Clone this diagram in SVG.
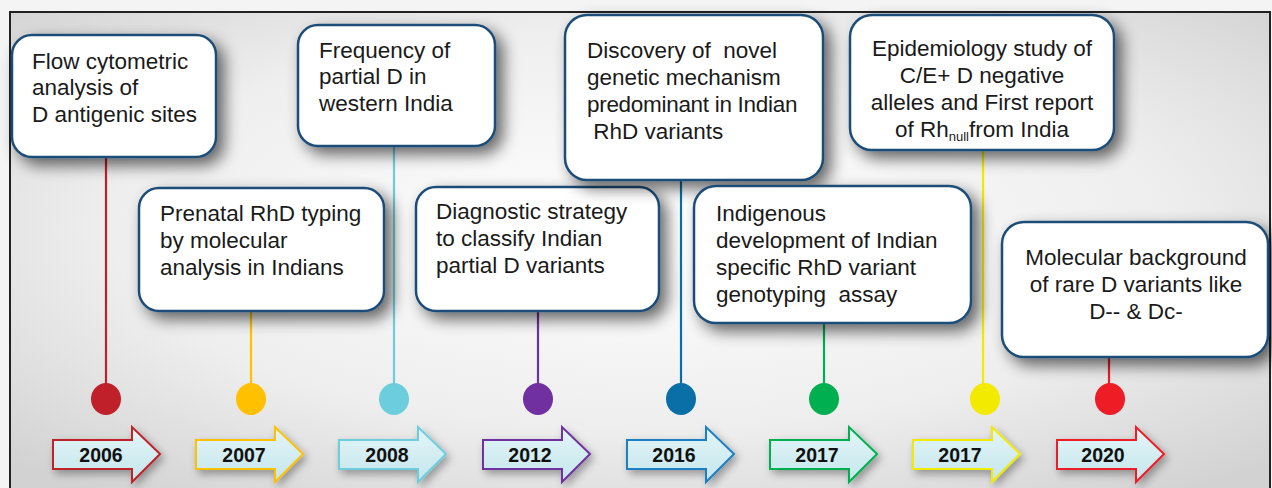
<svg xmlns="http://www.w3.org/2000/svg" width="1272" height="488" viewBox="0 0 1272 488">
<defs>
<radialGradient id="bg" cx="0.5" cy="0.45" r="0.7">
<stop offset="0" stop-color="#ffffff"/>
<stop offset="0.6" stop-color="#eeeeee"/>
<stop offset="1" stop-color="#d2d2d2"/>
</radialGradient>
<linearGradient id="arr" x1="0" y1="0" x2="0" y2="1">
<stop offset="0" stop-color="#e4f5f8"/>
<stop offset="1" stop-color="#c4e6ec"/>
</linearGradient>
<filter id="sh" x="-20%" y="-20%" width="150%" height="150%">
<feGaussianBlur in="SourceAlpha" stdDeviation="8"/>
<feOffset dx="7" dy="7" result="b"/>
<feComponentTransfer><feFuncA type="linear" slope="0.6"/></feComponentTransfer>
<feMerge><feMergeNode/><feMergeNode in="SourceGraphic"/></feMerge>
</filter>
<filter id="ash" x="-20%" y="-30%" width="150%" height="180%">
<feGaussianBlur in="SourceAlpha" stdDeviation="4"/>
<feOffset dx="3" dy="4"/>
<feComponentTransfer><feFuncA type="linear" slope="0.35"/></feComponentTransfer>
<feMerge><feMergeNode/><feMergeNode in="SourceGraphic"/></feMerge>
</filter>
<path id="arrowShape" d="M0,13 H79 V0 L107,27 L79,55 V42 H0 Z"/>
</defs>
<style>
.box{fill:#ffffff;stroke:#1f4e79;stroke-width:2.5;filter:url(#sh)}
.t{font-family:"Liberation Sans",Arial,sans-serif;font-size:22.5px;fill:#1a1a1a}
.c{text-anchor:middle}
.yr{font-family:"Liberation Sans",Arial,sans-serif;font-size:19.5px;font-weight:bold;fill:#111;text-anchor:middle}
.ln{stroke-width:2.2;fill:none}
.ar{fill:url(#arr);stroke-width:2;filter:url(#ash)}
</style>
<rect x="0" y="0" width="1272" height="488" fill="#f4f4f4"/>
<rect x="10" y="12" width="1260" height="480" fill="url(#bg)" stroke="#222" stroke-width="2"/>

<g id="connectors">
<line class="ln" x1="106" y1="157" x2="106" y2="390" stroke="#c0202a"/>
<ellipse cx="106" cy="399" rx="15" ry="16" fill="#c0202a"/>
<line class="ln" x1="251" y1="311" x2="251" y2="390" stroke="#ffc000"/>
<ellipse cx="251" cy="399" rx="15" ry="16" fill="#ffc000"/>
<line class="ln" x1="394" y1="146" x2="394" y2="390" stroke="#6ccedd"/>
<ellipse cx="394" cy="399" rx="15" ry="16" fill="#6ccedd"/>
<line class="ln" x1="538" y1="311" x2="538" y2="390" stroke="#7030a0"/>
<ellipse cx="538" cy="399" rx="15" ry="16" fill="#7030a0"/>
<line class="ln" x1="681" y1="180" x2="681" y2="390" stroke="#0a6fa6"/>
<ellipse cx="681" cy="399" rx="15" ry="16" fill="#0a6fa6"/>
<line class="ln" x1="824" y1="323" x2="824" y2="390" stroke="#00b050"/>
<ellipse cx="824" cy="399" rx="15" ry="16" fill="#00b050"/>
<line class="ln" x1="983" y1="150" x2="983" y2="390" stroke="#f2ea00"/>
<ellipse cx="985" cy="399" rx="15" ry="16" fill="#f2ea00"/>
<line class="ln" x1="1109" y1="357" x2="1109" y2="390" stroke="#ee1c25"/>
<ellipse cx="1110" cy="399" rx="15" ry="16" fill="#ee1c25"/>
</g>

<g id="y2006"><use href="#arrowShape" x="53" y="427" class="ar" stroke="#c0202a"/><text class="yr" x="101" y="462">2006</text></g>
<g id="y2007"><use href="#arrowShape" x="196" y="427" class="ar" stroke="#ffc000"/><text class="yr" x="244" y="462">2007</text></g>
<g id="y2008"><use href="#arrowShape" x="339" y="427" class="ar" stroke="#6ccedd"/><text class="yr" x="387" y="462">2008</text></g>
<g id="y2012"><use href="#arrowShape" x="483" y="427" class="ar" stroke="#7030a0"/><text class="yr" x="530" y="462">2012</text></g>
<g id="y2016"><use href="#arrowShape" x="627" y="427" class="ar" stroke="#1a7fc4"/><text class="yr" x="674" y="462">2016</text></g>
<g id="y2017a"><use href="#arrowShape" x="770" y="427" class="ar" stroke="#00b050"/><text class="yr" x="817" y="462">2017</text></g>
<g id="y2017b"><use href="#arrowShape" x="913" y="427" class="ar" stroke="#f2ea00"/><text class="yr" x="960" y="462">2017</text></g>
<g id="y2020"><use href="#arrowShape" x="1057" y="427" class="ar" stroke="#ee1c25"/><text class="yr" x="1103" y="462">2020</text></g>

<g id="n2006"><rect class="box" x="12" y="35" width="204" height="122" rx="20"/>
<text class="t" x="32" y="69">Flow cytometric</text><text class="t" x="32" y="95">analysis of</text><text class="t" x="32" y="122">D antigenic sites</text></g>

<g id="n2007"><rect class="box" x="139" y="188" width="245" height="123" rx="20"/>
<text class="t" x="160" y="221">Prenatal RhD typing</text><text class="t" x="160" y="248">by molecular</text><text class="t" x="160" y="275">analysis in Indians</text></g>

<g id="n2008"><rect class="box" x="298" y="25" width="197" height="121" rx="20"/>
<text class="t" x="319" y="58">Frequency of</text><text class="t" x="319" y="84">partial D in</text><text class="t" x="319" y="111">western India</text></g>

<g id="n2012"><rect class="box" x="416" y="187" width="243" height="124" rx="20"/>
<text class="t" x="436" y="219">Diagnostic strategy</text><text class="t" x="436" y="246">to classify Indian</text><text class="t" x="436" y="273">partial D variants</text></g>

<g id="n2016"><rect class="box" x="565" y="15" width="258" height="165" rx="22"/>
<text class="t" x="587" y="58" xml:space="preserve">Discovery of  novel</text><text class="t" x="587" y="85">genetic mechanism</text><text class="t" x="587" y="112" letter-spacing="-0.3">predominant in Indian</text><text class="t" x="587" y="139" xml:space="preserve"> RhD variants</text></g>

<g id="n2017a"><rect class="box" x="694" y="186" width="277" height="137" rx="22"/>
<text class="t" x="716" y="221">Indigenous</text><text class="t" x="716" y="248">development of Indian</text><text class="t" x="716" y="275">specific RhD variant</text><text class="t" x="716" y="302" xml:space="preserve">genotyping  assay</text></g>

<g id="n2017b"><rect class="box" x="850" y="15" width="264" height="135" rx="22"/>
<text class="t c" x="982" y="56">Epidemiology study of</text><text class="t c" x="982" y="83">C/E+ D negative</text><text class="t c" x="982" y="110">alleles and First report</text><text class="t c" x="982" y="137">of Rh<tspan font-size="13" dy="4">null</tspan><tspan dy="-4">from India</tspan></text></g>

<g id="n2020"><rect class="box" x="1002" y="222" width="266" height="135" rx="22"/>
<text class="t c" x="1136" y="265">Molecular background</text><text class="t c" x="1136" y="292">of rare D variants like</text><text class="t c" x="1136" y="319">D-- &amp; Dc-</text></g>
</svg>
